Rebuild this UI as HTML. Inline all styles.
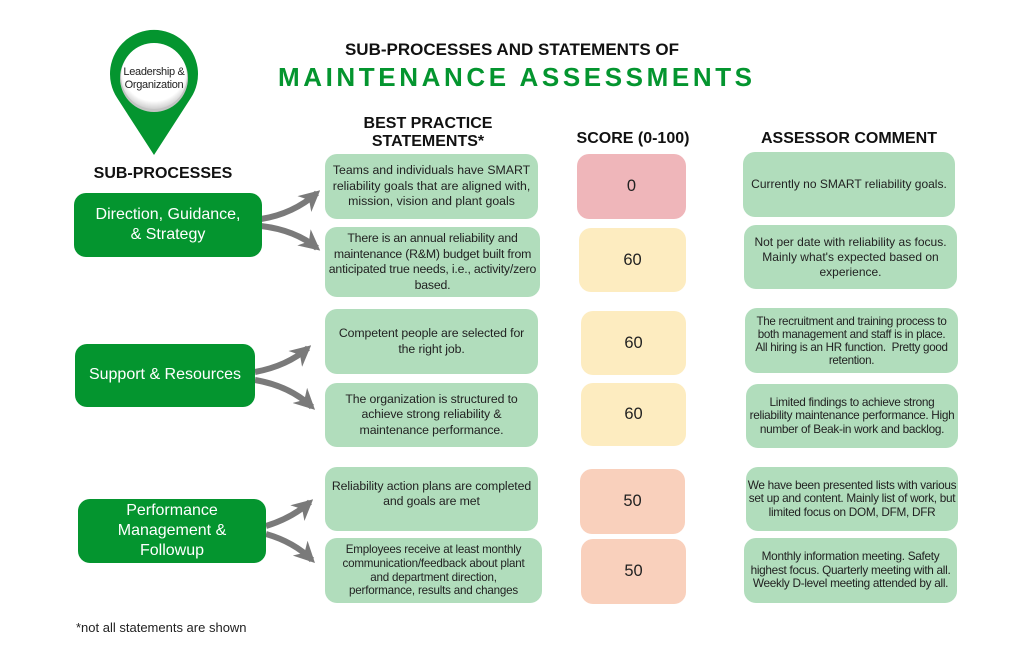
<!DOCTYPE html>
<html><head><meta charset="utf-8"><style>
*{margin:0;padding:0;box-sizing:border-box}
body{width:1024px;height:655px;background:#fff;position:relative;overflow:hidden;font-family:"Liberation Sans",Arial,sans-serif;color:#1a1a1a}
.b{position:absolute;display:flex;align-items:center;justify-content:center;text-align:center;border-radius:12px;white-space:nowrap}
.g{background:#04952f;color:#fff;font-size:16px;line-height:20.5px}
.s{background:#b1ddbc;font-size:12.3px;line-height:15.5px;color:#222;letter-spacing:-0.1px}
.c{background:#b1ddbc;font-size:12px;line-height:13.6px;color:#222;letter-spacing:-0.3px}
.sc{font-size:16.5px;color:#222}
.pk{background:#efb6ba}.yl{background:#fdecc0}.pc{background:#f9d0bc}
.h{position:absolute;font-weight:bold;font-size:16px;text-align:center;color:#111;line-height:18px;white-space:nowrap}
</style></head><body>
<svg width="1024" height="655" style="position:absolute;left:0;top:0">
<defs>
<marker id="ah" viewBox="0 0 20 20" refX="16" refY="10" markerWidth="21" markerHeight="21" markerUnits="userSpaceOnUse" orient="auto">
<path d="M0,0 L20,10 L0,20 L6,10 z" fill="#7a7a7a"/>
</marker>
<radialGradient id="ig" cx="50%" cy="40%" r="60%">
<stop offset="80%" stop-color="#ffffff"/><stop offset="100%" stop-color="#cfcfcf"/>
</radialGradient>
</defs>
<path d="M154 155 L117.1 97.9 A44 44 0 1 1 190.9 97.9 Z" fill="#04952f"/>
<circle cx="154" cy="78" r="34" fill="#c4c4c4"/>
<circle cx="154" cy="76" r="33" fill="url(#ig)"/>
<text x="154" y="75" font-family="Liberation Sans, Arial, sans-serif" font-size="11" letter-spacing="-0.3" text-anchor="middle" fill="#222">Leadership &amp;</text>
<text x="154" y="88" font-family="Liberation Sans, Arial, sans-serif" font-size="11" letter-spacing="-0.3" text-anchor="middle" fill="#222">Organization</text>
<g fill="none" stroke="#7a7a7a" stroke-width="6" stroke-linecap="butt">
<path d="M261 219 Q293 214 317 193" marker-end="url(#ah)"/>
<path d="M261 226 Q295 230 317 248" marker-end="url(#ah)"/>
<path d="M255 372 Q287 366 308 348" marker-end="url(#ah)"/>
<path d="M255 380 Q290 386 312 407" marker-end="url(#ah)"/>
<path d="M266 526 Q292 518 310 502" marker-end="url(#ah)"/>
<path d="M266 534 Q294 542 312 560" marker-end="url(#ah)"/>
</g>
</svg>

<div class="h" style="left:300px;top:40px;width:424px;font-size:17px;line-height:20px">SUB-PROCESSES AND STATEMENTS OF</div>
<div class="h" style="left:250px;top:62px;width:530px;font-size:26px;line-height:30px;color:#04952f;letter-spacing:3.6px;padding-left:3.6px">MAINTENANCE ASSESSMENTS</div>

<div class="h" style="left:73px;top:165px;width:180px">SUB-PROCESSES</div>
<div class="h" style="left:328px;top:115px;width:200px">BEST PRACTICE<br>STATEMENTS*</div>
<div class="h" style="left:558px;top:130px;width:150px">SCORE (0-100)</div>
<div class="h" style="left:740px;top:130px;width:218px">ASSESSOR COMMENT</div>

<div class="b g" style="left:74px;top:193px;width:188px;height:64px">Direction, Guidance,<br>&amp; Strategy</div>
<div class="b g" style="left:75px;top:344px;width:180px;height:63px">Support &amp; Resources</div>
<div class="b g" style="left:78px;top:499px;width:188px;height:64px;line-height:20px">Performance<br>Management &amp;<br>Followup</div>

<div class="b s" style="left:325px;top:154px;width:213px;height:65px;letter-spacing:0">Teams and individuals have SMART<br>reliability goals that are aligned with,<br>mission, vision and plant goals</div>
<div class="b s" style="left:325px;top:227px;width:215px;height:70px;letter-spacing:-0.2px">There is an annual reliability and<br>maintenance (R&amp;M) budget built from<br>anticipated true needs, i.e., activity/zero<br>based.</div>
<div class="b s" style="left:325px;top:309px;width:213px;height:65px">Competent people are selected for<br>the right job.</div>
<div class="b s" style="left:325px;top:383px;width:213px;height:64px">The organization is structured to<br>achieve strong reliability &amp;<br>maintenance performance.</div>
<div class="b s" style="left:325px;top:467px;width:213px;height:64px;padding-bottom:10px">Reliability action plans are completed<br>and goals are met</div>
<div class="b s" style="left:325px;top:538px;width:217px;height:65px;font-size:11.6px;line-height:13.7px;letter-spacing:-0.2px">Employees receive at least monthly<br>communication/feedback about plant<br>and department direction,<br>performance, results and changes</div>

<div class="b sc pk" style="left:577px;top:154px;width:109px;height:65px">0</div>
<div class="b sc yl" style="left:579px;top:228px;width:107px;height:64px">60</div>
<div class="b sc yl" style="left:581px;top:311px;width:105px;height:64px">60</div>
<div class="b sc yl" style="left:581px;top:383px;width:105px;height:63px">60</div>
<div class="b sc pc" style="left:580px;top:469px;width:105px;height:65px">50</div>
<div class="b sc pc" style="left:581px;top:539px;width:105px;height:65px">50</div>

<div class="b c" style="left:743px;top:152px;width:212px;height:65px;letter-spacing:0">Currently no SMART reliability goals.</div>
<div class="b c" style="left:744px;top:225px;width:213px;height:64px;line-height:15px;letter-spacing:0">Not per date with reliability as focus.<br>Mainly what's expected based on<br>experience.</div>
<div class="b c" style="left:745px;top:308px;width:213px;height:65px;font-size:11.6px;line-height:13px">The recruitment and training process to<br>both management and staff is in place.<br>All hiring is an HR function.&nbsp; Pretty good<br>retention.</div>
<div class="b c" style="left:746px;top:384px;width:212px;height:64px;font-size:11.8px">Limited findings to achieve strong<br>reliability maintenance performance. High<br>number of Beak-in work and backlog.</div>
<div class="b c" style="left:746px;top:467px;width:212px;height:64px;font-size:11.8px">We have been presented lists with various<br>set up and content. Mainly list of work, but<br>limited focus on DOM, DFM, DFR</div>
<div class="b c" style="left:744px;top:538px;width:213px;height:65px;font-size:11.8px">Monthly information meeting. Safety<br>highest focus. Quarterly meeting with all.<br>Weekly D-level meeting attended by all.</div>

<div style="position:absolute;left:76px;top:620px;font-size:13px;color:#222;white-space:nowrap">*not all statements are shown</div>
</body></html>
